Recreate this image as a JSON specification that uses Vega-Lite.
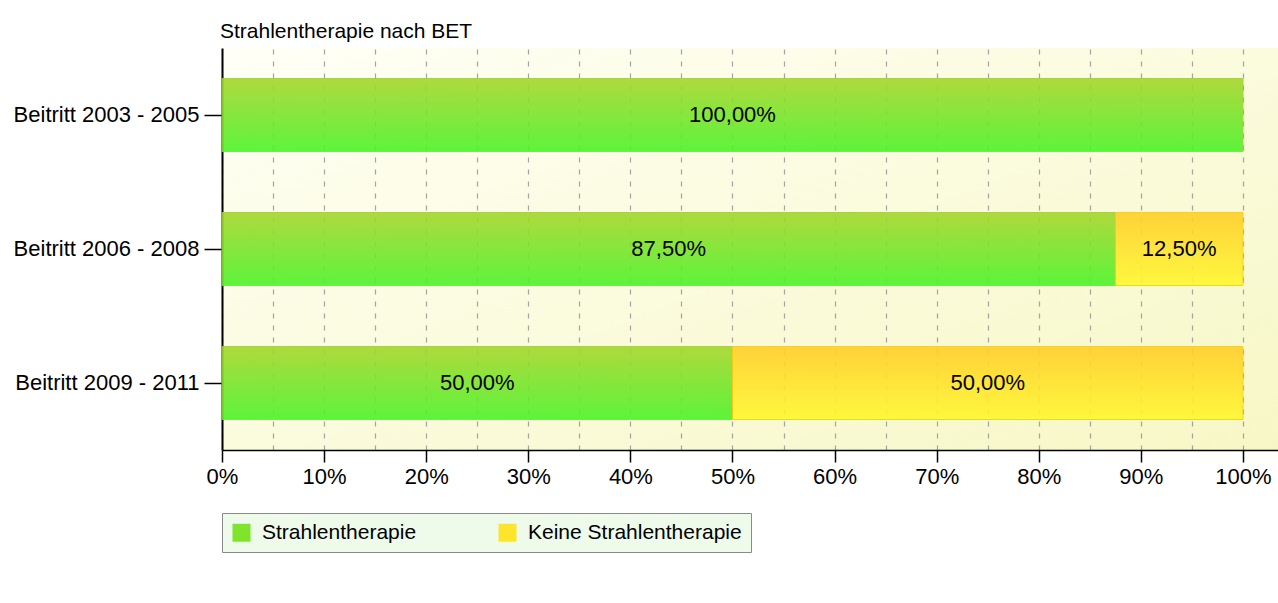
{
  "$schema": "https://vega.github.io/schema/vega-lite/v6.json",
  "autosize": "none",
  "padding": {"left": 222, "top": 48, "right": 0, "bottom": 153},
  "width": 1056,
  "height": 402,
  "background": "white",
  "config": {
    "locale": {"number": {"decimal": ",", "thousands": ".", "grouping": [3], "currency": ["", " €"]}},
    "font": "Liberation Sans",
    "view": {
      "stroke": null,
      "fill": {"gradient": "linear", "x1": 0, "y1": 0, "x2": 1, "y2": 1, "stops": [{"offset": 0, "color": "#FFFFF6"}, {"offset": 1, "color": "#F7F7C6"}]}
    }
  },
  "title": {
    "text": "Strahlentherapie nach BET",
    "anchor": "start",
    "frame": "group",
    "fontSize": 21,
    "fontWeight": "normal",
    "color": "#000000",
    "offset": 6,
    "dx": -2
  },
  "data": {
    "values": [
      {"group": "Beitritt 2003 - 2005", "kategorie": "Strahlentherapie", "ord": 1, "anteil": 1.0},
      {"group": "Beitritt 2003 - 2005", "kategorie": "Keine Strahlentherapie", "ord": 2, "anteil": 0.0},
      {"group": "Beitritt 2006 - 2008", "kategorie": "Strahlentherapie", "ord": 1, "anteil": 0.875},
      {"group": "Beitritt 2006 - 2008", "kategorie": "Keine Strahlentherapie", "ord": 2, "anteil": 0.125},
      {"group": "Beitritt 2009 - 2011", "kategorie": "Strahlentherapie", "ord": 1, "anteil": 0.5},
      {"group": "Beitritt 2009 - 2011", "kategorie": "Keine Strahlentherapie", "ord": 2, "anteil": 0.5}
    ]
  },
  "transform": [
    {"filter": "datum.anteil > 0"},
    {"stack": "anteil", "groupby": ["group"], "sort": [{"field": "ord", "order": "ascending"}], "as": ["v0", "v1"]},
    {"calculate": "(datum.v0 + datum.v1) / 2", "as": "mid"}
  ],
  "encoding": {
    "y": {
      "field": "group",
      "type": "nominal",
      "title": null,
      "scale": {"paddingInner": 0.455, "paddingOuter": 0.2275},
      "axis": {
        "domainColor": "#000000",
        "domainWidth": 2,
        "tickColor": "#000000",
        "tickSize": 18,
        "tickWidth": 1.5,
        "labelFontSize": 22,
        "labelColor": "#000000",
        "labelPadding": 5,
        "labelLimit": 300,
        "grid": false
      }
    },
    "x": {
      "field": "v0",
      "type": "quantitative",
      "title": null,
      "scale": {"domain": [0, 1.0343], "nice": false, "zero": true},
      "axis": {
        "values": [0, 0.05, 0.1, 0.15, 0.2, 0.25, 0.3, 0.35, 0.4, 0.45, 0.5, 0.55, 0.6, 0.65, 0.7, 0.75, 0.8, 0.85, 0.9, 0.95, 1.0],
        "format": ".0%",
        "labelExpr": "round(datum.value * 100) % 10 == 0 ? datum.label : ''",
        "tickOpacity": {"condition": {"test": "round(datum.value * 100) % 10 != 0", "value": 0}, "value": 1},
        "domainColor": "#000000",
        "domainWidth": 1.5,
        "tickColor": "#000000",
        "tickSize": 12,
        "tickWidth": 1.5,
        "labelFontSize": 22,
        "labelColor": "#000000",
        "labelPadding": 4,
        "labelFlush": false,
        "grid": true,
        "gridColor": "#9A9A9A",
        "gridDash": [5, 7],
        "gridWidth": 1.2,
        "gridOpacity": 0.9
      }
    },
    "x2": {"field": "v1"}
  },
  "layer": [
    {
      "mark": {"type": "bar", "opacity": 0},
      "encoding": {
        "color": {
          "field": "kategorie",
          "type": "nominal",
          "sort": ["Strahlentherapie", "Keine Strahlentherapie"],
          "scale": {
            "domain": ["Strahlentherapie", "Keine Strahlentherapie"],
            "range": ["#7EE42C", "#FFE42C"]
          },
          "legend": {
            "title": null,
            "orient": "none",
            "legendX": 0,
            "legendY": 465,
            "direction": "horizontal",
            "columns": 2,
            "columnPadding": 80,
            "padding": 9,
            "fillColor": "#EEFBEA",
            "strokeColor": "#8A8A8A",
            "symbolType": "square",
            "symbolSize": 324,
            "symbolOpacity": 1,
            "symbolStrokeWidth": 0,
            "labelFontSize": 21,
            "labelColor": "#000000",
            "labelOffset": 10,
            "labelLimit": 400
          }
        }
      }
    },
    {
      "transform": [{"filter": "datum.kategorie == 'Strahlentherapie'"}],
      "mark": {
        "type": "bar",
        "opacity": 0.9,
        "stroke": "#9CD02A",
        "strokeWidth": 1,
        "color": {"gradient": "linear", "x1": 0, "y1": 0, "x2": 0, "y2": 1, "stops": [{"offset": 0, "color": "#A6D62C"}, {"offset": 1, "color": "#4CF42A"}]}
      }
    },
    {
      "transform": [{"filter": "datum.kategorie == 'Keine Strahlentherapie'"}],
      "mark": {
        "type": "bar",
        "opacity": 0.9,
        "stroke": "#F8CC18",
        "strokeWidth": 1,
        "color": {"gradient": "linear", "x1": 0, "y1": 0, "x2": 0, "y2": 1, "stops": [{"offset": 0, "color": "#FFCE28"}, {"offset": 1, "color": "#FFF82E"}]}
      }
    },
    {
      "mark": {"type": "text", "fontSize": 22, "color": "#000000", "align": "center", "baseline": "middle"},
      "encoding": {
        "x": {"field": "mid", "type": "quantitative"},
        "x2": null,
        "text": {"field": "anteil", "type": "quantitative", "format": ".2%"}
      }
    }
  ]
}
